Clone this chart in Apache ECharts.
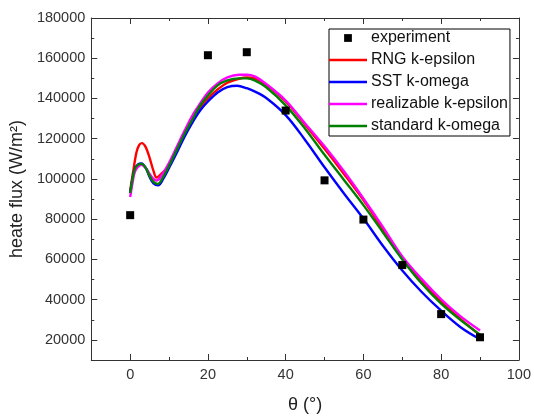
<!DOCTYPE html>
<html>
<head>
<meta charset="utf-8">
<script src="https://cdn.jsdelivr.net/npm/echarts@6/dist/echarts.min.js"></script>
<style>html,body{margin:0;padding:0;background:#fff;}#c{width:534px;height:419px;}</style>
</head>
<body>
<div id="c"></div>
<script>
// Experiment
var expX = [0, 20, 30, 40, 50, 60, 70, 80, 90];
var expY = [82000, 161500, 163000, 134000, 99300, 79800, 57200, 32800, 21300];

// RNG k-epsilon
var rngX = [0, 0.8, 1.6, 2.3, 3, 4, 5, 6, 6.8, 8, 10, 12, 14, 16, 18, 20, 22.5, 25, 28, 30, 32, 35, 40, 45, 50, 55, 60, 65, 70, 75, 80, 85, 90];
var rngY = [94000, 104000, 113000, 116800, 117800, 115800, 110500, 104000, 100700, 102500, 106500, 114000, 122000, 129000, 135500, 140000, 144500, 147800, 149800, 150400, 150000, 146800, 138500, 127000, 115000, 102500, 89500, 75000, 60800, 49300, 39000, 30300, 22300];

// SST k-omega
var sstX = [0, 0.6, 1.2, 2, 2.9, 4, 5, 6, 7.2, 8.5, 10, 12, 14, 16, 18, 20, 22.5, 25, 27.5, 30, 32, 35, 40, 45, 50, 55, 60, 65, 70, 75, 80, 85, 90];
var sstY = [93000, 100000, 105000, 107200, 107700, 105500, 101000, 97800, 96800, 100000, 105500, 113000, 121000, 128000, 134000, 138500, 143000, 145600, 146300, 145100, 143500, 140200, 131700, 119400, 105800, 92800, 80300, 66800, 54500, 43800, 34500, 26300, 20300];

// realizable k-epsilon
var relX = [0, 0.6, 1.2, 2, 2.9, 4, 5, 6, 6.8, 8, 10, 12, 14, 16, 18, 20, 22.5, 25, 28, 30, 32, 35, 40, 45, 50, 55, 60, 65, 70, 75, 80, 85, 90];
var relY = [91000, 98000, 103500, 106000, 107000, 105500, 102500, 100000, 99200, 101500, 108000, 116000, 124000, 131500, 137500, 143000, 147500, 150500, 151800, 151800, 151000, 147200, 139000, 127600, 116200, 103800, 90300, 76200, 61500, 50200, 40200, 31700, 24700];

// standard k-omega
var stdX = [0, 0.6, 1.2, 2, 2.9, 4, 5, 6, 7.1, 8.5, 10, 12, 14, 16, 18, 20, 22.5, 25, 28, 30, 32, 35, 40, 45, 50, 55, 60, 65, 70, 75, 80, 85, 90];
var stdY = [93000, 100000, 105000, 107000, 107500, 105500, 101500, 98500, 97500, 101000, 106500, 114500, 122500, 129500, 136500, 141500, 146500, 149000, 150000, 150000, 149000, 145600, 136600, 125000, 112000, 99500, 87000, 73500, 60000, 48000, 38000, 29800, 22600];

var seriesNames = ['experiment', 'RNG k-epsilon', 'SST k-omega', 'realizable k-epsilon', 'standard k-omega'];
var seriesColors = ['#000000', '#ff0000', '#0000ff', '#ff00ff', '#008000'];

var xMajor = [0, 20, 40, 60, 80, 100];
var xMinor = [10, 30, 50, 70, 90];
var yMajor = [20000, 40000, 60000, 80000, 100000, 120000, 140000, 160000, 180000];
var yMinor = [30000, 50000, 70000, 90000, 110000, 130000, 150000, 170000];

function pairs(xs, ys) { return xs.map(function (x, i) { return [x, ys[i]]; }); }

var FONT = '"Liberation Sans", Arial, sans-serif';
var AX = '#333333';
function plain(v) { return String(v); }

function xAxisDef(pos, ticks, len, showLabel, showLine, name) {
  return {
    type: 'value', position: pos, min: -10, max: 100, interval: 10,
    axisLine: { show: showLine, onZero: false, lineStyle: { color: AX, width: 1 } },
    axisTick: { show: true, inside: true, length: len, customValues: ticks, lineStyle: { color: AX } },
    axisLabel: { show: showLabel, customValues: xMajor, formatter: plain, color: '#333', fontSize: 14.5, fontFamily: FONT, margin: 7 },
    splitLine: { show: false },
    name: name || '', nameLocation: 'middle', nameGap: 36,
    nameTextStyle: { color: '#222', fontSize: 18, fontFamily: FONT }
  };
}
function yAxisDef(pos, ticks, len, showLabel, showLine, name) {
  return {
    type: 'value', position: pos, min: 10000, max: 180000, interval: 10000,
    axisLine: { show: showLine, onZero: false, lineStyle: { color: AX, width: 1 } },
    axisTick: { show: true, inside: true, length: len, customValues: ticks, lineStyle: { color: AX } },
    axisLabel: { show: showLabel, customValues: yMajor, formatter: plain, color: '#333', fontSize: 14.5, fontFamily: FONT, margin: 6 },
    splitLine: { show: false },
    name: name || '', nameLocation: 'middle', nameGap: 60, nameRotate: 90,
    nameTextStyle: { color: '#222', fontSize: 18, fontFamily: FONT }
  };
}

var LINE_ICON = 'path://M0,0h38v2.6h-38Z';

var lineSeries = [
  { name: seriesNames[1], xs: rngX, ys: rngY, color: seriesColors[1], z: 3 },
  { name: seriesNames[2], xs: sstX, ys: sstY, color: seriesColors[2], z: 4 },
  { name: seriesNames[3], xs: relX, ys: relY, color: seriesColors[3], z: 5 },
  { name: seriesNames[4], xs: stdX, ys: stdY, color: seriesColors[4], z: 6 }
].map(function (s) {
  return {
    type: 'line', name: s.name, data: pairs(s.xs, s.ys), xAxisIndex: 0, yAxisIndex: 0,
    showSymbol: false, symbol: 'none', smooth: 0.35,
    lineStyle: { color: s.color, width: 2.4 }, itemStyle: { color: s.color },
    z: s.z, animation: false
  };
});

var option = {
  animation: false,
  backgroundColor: '#ffffff',
  grid: { left: 88, right: 14, top: 18, bottom: 54 },
  xAxis: [
    xAxisDef('bottom', xMajor, 6, true, true, 'θ (°)'),
    xAxisDef('bottom', xMinor, 3, false, false),
    xAxisDef('top', xMajor, 6, false, true),
    xAxisDef('top', xMinor, 3, false, false)
  ],
  yAxis: [
    yAxisDef('left', yMajor, 6, true, true, 'heate flux (W/m²)'),
    yAxisDef('left', yMinor, 3, false, false),
    yAxisDef('right', yMajor, 6, false, true),
    yAxisDef('right', yMinor, 3, false, false)
  ],
  legend: {
    left: 329, top: 29, orient: 'vertical',
    borderColor: '#000', borderWidth: 1, padding: [1, 2, 2, 0],
    itemWidth: 38, itemHeight: 14, itemGap: 6,
    textStyle: { fontSize: 16, fontFamily: FONT, color: '#111', padding: [0, 0, 0, -1] },
    data: [
      { name: seriesNames[0], icon: 'path://M0,0L0,0M4,4h10v10h-10ZM18,18L18,18', itemStyle: { opacity: 1, color: '#000' } },
      { name: seriesNames[1], icon: LINE_ICON },
      { name: seriesNames[2], icon: LINE_ICON },
      { name: seriesNames[3], icon: LINE_ICON },
      { name: seriesNames[4], icon: LINE_ICON }
    ]
  },
  series: [
    {
      type: 'scatter', name: seriesNames[0], data: pairs(expX, expY), xAxisIndex: 0, yAxisIndex: 0,
      symbol: 'rect', symbolSize: 8, itemStyle: { color: seriesColors[0], opacity: 1 }, z: 10
    }
  ].concat(lineSeries)
};

var chart = echarts.init(document.getElementById('c'), null, { renderer: 'canvas' });
chart.setOption(option);
</script>
</body>
</html>
